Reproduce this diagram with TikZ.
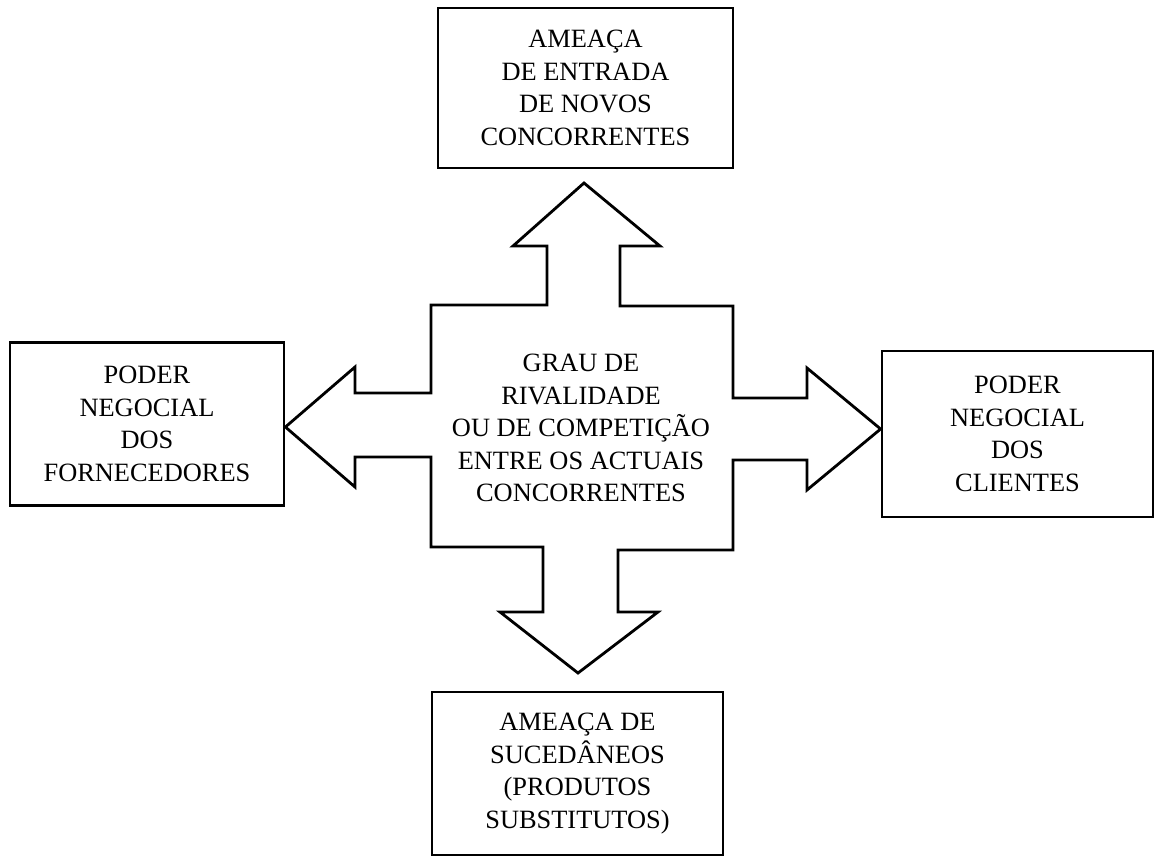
\documentclass[tikz,border=0pt]{standalone}
\usepackage{fontspec}
\setmainfont{Liberation Serif}
\begin{document}
\begin{tikzpicture}[x=0.5pt,y=-0.5pt,
  forcebox/.style={draw, line width=1.4pt, align=center, inner sep=0pt,
    font=\fontsize{13.2}{16.3}\selectfont},
  crossline/.style={draw, line width=1.4pt, line join=miter},
  label/.style={align=center, font=\fontsize{13.2}{16.3}\selectfont}]
\useasboundingbox (0,0) rectangle (1160,857);

% the four surrounding forces
\node[forcebox, minimum width=147.5pt, minimum height=80pt] (entrants) at (585.5,88)
  {AMEAÇA\\DE ENTRADA\\DE NOVOS\\CONCORRENTES};
\node[forcebox, minimum width=137pt, minimum height=81.5pt] (suppliers) at (147,424)
  {PODER\\NEGOCIAL\\DOS\\FORNECEDORES};
\node[forcebox, minimum width=135.5pt, minimum height=83pt] (buyers) at (1017.5,434)
  {PODER\\NEGOCIAL\\DOS\\CLIENTES};
\node[forcebox, minimum width=145.5pt, minimum height=81.5pt] (substitutes) at (577.5,773.5)
  {AMEAÇA DE\\SUCEDÂNEOS\\(PRODUTOS\\SUBSTITUTOS)};

% arrow tips of the central cross
\coordinate (tipN) at (584,183);
\coordinate (tipE) at (buyers.west |- 0,429);
\coordinate (tipS) at (578,673);
\coordinate (tipW) at (suppliers.east |- 0,427);

% central four-headed arrow
\path[crossline]
  (tipN) -- (660,246) -- (620,246) -- (620,306) -- (733,306) -- (733,398)
  -- (807,398) -- (807,368) -- (tipE) -- (807,490) -- (807,460) -- (733,460)
  -- (733,550) -- (618,550) -- (618,612) -- (658,612) -- (tipS)
  -- (500,612) -- (543,612) -- (543,547) -- (431,547) -- (431,457)
  -- (355,457) -- (355,487) -- (tipW) -- (355,367) -- (355,393)
  -- (431,393) -- (431,305) -- (547,305) -- (547,246) -- (513,246) -- cycle;

\node[label] (rivalry) at (581,428)
  {GRAU DE\\RIVALIDADE\\OU DE COMPETIÇÃO\\ENTRE OS ACTUAIS\\CONCORRENTES};
\end{tikzpicture}
\end{document}
